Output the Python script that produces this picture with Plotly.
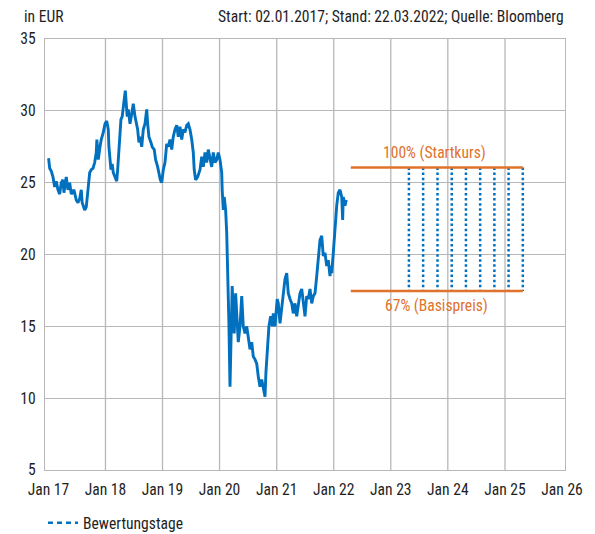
import pandas as pd
import plotly.graph_objects as go

# ---------------- data ----------------
dates = [
    "2017-01-02", "2017-01-09", "2017-01-19", "2017-01-30", "2017-02-10", "2017-02-20",
    "2017-03-03", "2017-03-14", "2017-03-24", "2017-04-04", "2017-04-10", "2017-04-25",
    "2017-05-06", "2017-05-17", "2017-05-27", "2017-06-13", "2017-06-28", "2017-07-09",
    "2017-07-20", "2017-07-30", "2017-08-05", "2017-08-21", "2017-08-31", "2017-09-11",
    "2017-09-22", "2017-10-02", "2017-10-13", "2017-10-24", "2017-11-03", "2017-11-07",
    "2017-11-16", "2017-11-27", "2017-12-05", "2017-12-18", "2017-12-29",
    "2018-01-09", "2018-01-19", "2018-01-23", "2018-01-30", "2018-02-05", "2018-02-13",
    "2018-02-20", "2018-03-03", "2018-03-14", "2018-03-20", "2018-03-28", "2018-04-04",
    "2018-04-10", "2018-04-18", "2018-04-25", "2018-05-01", "2018-05-08", "2018-05-14",
    "2018-05-20", "2018-05-27", "2018-06-07", "2018-06-18", "2018-06-28", "2018-07-09",
    "2018-07-20", "2018-07-26", "2018-08-03", "2018-08-10", "2018-08-21", "2018-08-31",
    "2018-09-11", "2018-09-22", "2018-09-28", "2018-10-06", "2018-10-19", "2018-10-27",
    "2018-11-09", "2018-11-18", "2018-12-01", "2018-12-09", "2018-12-18", "2018-12-27",
    "2019-01-06", "2019-01-17", "2019-01-28", "2019-02-07", "2019-02-18", "2019-03-01",
    "2019-03-11", "2019-03-22", "2019-04-02", "2019-04-12", "2019-04-23", "2019-05-04",
    "2019-05-14", "2019-05-25", "2019-06-05", "2019-06-15", "2019-06-26", "2019-07-07",
    "2019-07-17", "2019-07-23", "2019-08-01", "2019-08-14", "2019-08-29", "2019-09-09",
    "2019-09-19", "2019-09-30", "2019-10-11", "2019-10-21", "2019-11-01", "2019-11-12",
    "2019-11-22", "2019-12-03", "2019-12-14", "2019-12-24",
    "2020-01-04", "2020-01-15", "2020-01-18", "2020-01-25", "2020-01-31", "2020-02-09",
    "2020-02-16", "2020-02-22", "2020-02-26", "2020-03-01", "2020-03-08", "2020-03-14",
    "2020-03-22", "2020-03-29", "2020-04-04", "2020-04-13", "2020-04-20", "2020-04-30",
    "2020-05-11", "2020-05-22", "2020-06-01", "2020-06-12", "2020-06-23", "2020-07-03",
    "2020-07-14", "2020-07-25", "2020-08-04", "2020-08-15", "2020-08-26", "2020-09-05",
    "2020-09-16", "2020-09-27", "2020-10-07", "2020-10-18", "2020-10-24", "2020-11-02",
    "2020-11-12", "2020-11-23", "2020-12-04", "2020-12-10", "2020-12-21",
    "2021-01-04", "2021-01-11", "2021-01-22", "2021-02-02", "2021-02-12", "2021-02-23",
    "2021-03-06", "2021-03-16", "2021-03-27", "2021-04-07", "2021-04-17", "2021-04-28",
    "2021-05-09", "2021-05-19", "2021-05-30", "2021-06-10", "2021-06-20", "2021-07-01",
    "2021-07-12", "2021-07-22", "2021-08-02", "2021-08-13", "2021-08-23", "2021-09-03",
    "2021-09-14", "2021-09-24", "2021-10-05", "2021-10-16", "2021-10-26", "2021-11-06",
    "2021-11-17", "2021-11-27", "2021-12-08", "2021-12-14", "2021-12-19", "2021-12-29",
    "2022-01-09", "2022-01-20", "2022-01-30", "2022-02-10", "2022-02-21", "2022-02-27",
    "2022-03-03", "2022-03-14", "2022-03-22",
]
prices = [
    26.7, 26.0, 25.8, 25.4, 24.7, 25.1,
    24.5, 24.2, 25.0, 25.2, 24.3, 25.4,
    24.5, 25.0, 24.2, 24.5, 23.8, 23.6,
    23.9, 24.5, 23.6, 23.1, 23.3, 24.5,
    25.7, 25.9, 26.0, 26.4, 27.1, 28.0,
    26.6, 27.5, 28.0, 28.5, 29.1,
    29.3, 28.7, 27.5, 26.6, 25.9, 26.3,
    25.7, 25.4, 25.1, 25.9, 27.5, 28.4,
    29.4, 29.6, 30.1, 30.8, 31.4, 30.3,
    29.6, 30.1, 29.1, 29.8, 30.5, 29.6,
    29.1, 28.7, 27.8, 28.2, 27.5, 28.7,
    29.1, 30.1, 29.1, 28.2, 27.8, 27.5,
    27.3, 26.6, 26.1, 25.7, 25.2, 25.0,
    25.9, 26.4, 27.7, 27.5, 28.0, 27.3,
    28.2, 28.7, 29.0, 28.2, 28.9, 28.0,
    28.7, 28.5, 29.0, 29.1, 28.7, 28.0,
    27.1, 25.9, 25.2, 25.4, 25.9, 26.8,
    26.1, 27.1, 26.4, 27.3, 26.6, 26.1,
    27.1, 26.4, 26.6, 27.1,
    26.6, 25.7, 24.5, 23.1, 24.0, 23.1,
    21.5, 19.4, 18.0, 15.2, 10.8, 15.0,
    17.8, 15.9, 14.5, 17.3, 15.5, 13.9,
    15.0, 17.1, 15.0, 14.5, 15.0, 14.3,
    13.4, 13.9, 12.9, 12.7, 12.4, 11.5,
    10.8, 11.3, 10.8, 10.1, 11.8, 13.4,
    15.0, 15.7, 15.0, 15.9, 15.0,
    16.9, 16.6, 15.2, 16.2, 17.3, 18.3,
    18.7, 17.3, 16.9, 16.6, 15.9, 16.6,
    15.7, 16.4, 17.3, 17.6, 16.6, 15.7,
    17.1, 16.9, 17.6, 16.6, 17.1, 17.3,
    18.5, 19.6, 21.0, 21.3, 19.9, 20.1,
    19.2, 19.6, 18.5, 19.2, 18.7, 20.1,
    22.2, 23.4, 24.3, 24.5, 24.0, 22.4,
    24.0, 23.4, 23.8,
]

start_level = 26.06      # 100% (Startkurs)
strike_level = 17.46     # 67% (Basispreis)
level_period = ["2022-04-20", "2025-04-25"]
valuation_dates = [
    "2023-04-27", "2023-07-27", "2023-10-27", "2024-01-26", "2024-04-26",
    "2024-07-26", "2024-10-25", "2025-01-24", "2025-04-25",
]
x_tick_vals = ["2017-01-01", "2018-01-01", "2019-01-01", "2020-01-01", "2021-01-01",
               "2022-01-01", "2023-01-01", "2024-01-01", "2025-01-01", "2026-01-01"]
x_tick_text = ["Jan 17", "Jan 18", "Jan 19", "Jan 20", "Jan 21",
               "Jan 22", "Jan 23", "Jan 24", "Jan 25", "Jan 26"]
y_tick_vals = [5, 10, 15, 20, 25, 30, 35]

# ---------------- styling ----------------
FONT = "Liberation Sans Narrow, Roboto Condensed, DejaVu Sans Condensed, Arial Narrow, sans-serif"
FS = 15.6
TXT = "#1e1e1e"
GRID = "#b8b8b8"
BLUE = "#0070BF"
ORANGE = "#E0722B"

W, H = 595, 534
ML, MR, MT, MB = 45, 30, 39, 64
PW, PH = W - ML - MR, H - MT - MB


def px_to_paper(px, py):
    """figure pixel position -> plot-area paper coordinates"""
    return (px - ML) / PW, (H - MB - py) / PH


fig = go.Figure()

# price line
fig.add_trace(go.Scatter(x=dates, y=prices, mode="lines",
                         line=dict(color=BLUE, width=2.9),
                         showlegend=False, hoverinfo="skip"))

# valuation days (dotted verticals between the two levels)
vx, vy = [], []
for d in valuation_dates:
    vx += [d, d, None]
    vy += [start_level, strike_level, None]
fig.add_trace(go.Scatter(x=vx, y=vy, mode="lines",
                         line=dict(color=BLUE, width=2.5, dash="2.5px,2.6px"),
                         showlegend=False, hoverinfo="skip"))

# legend-only entry
fig.add_trace(go.Scatter(x=[None], y=[None], mode="lines", name="Bewertungstage",
                         line=dict(color=BLUE, width=2.5, dash="5px,4px"),
                         showlegend=True))

# level lines
for lvl in (start_level, strike_level):
    fig.add_trace(go.Scatter(x=level_period, y=[lvl, lvl], mode="lines",
                             line=dict(color=ORANGE, width=2.6),
                             showlegend=False, hoverinfo="skip"))

mid = pd.to_datetime(level_period[0]) + (pd.to_datetime(level_period[1]) - pd.to_datetime(level_period[0])) / 2

fig.add_annotation(x=mid, y=start_level, text="100% (Startkurs)", showarrow=False,
                   yshift=14, xshift=-2, font=dict(family=FONT, size=FS, color=ORANGE))
fig.add_annotation(x=mid, y=strike_level, text="67% (Basispreis)", showarrow=False,
                   yshift=-15, font=dict(family=FONT, size=FS, color=ORANGE))

# header texts
hx, hy = px_to_paper(22, 17)
fig.add_annotation(x=hx, y=hy, xref="paper", yref="paper", text="in EUR", showarrow=False,
                   xanchor="left", yanchor="middle", font=dict(family=FONT, size=FS, color=TXT))
hx, hy = px_to_paper(566, 17)
fig.add_annotation(x=hx, y=hy, xref="paper", yref="paper",
                   text="Start: 02.01.2017; Stand: 22.03.2022; Quelle: Bloomberg",
                   showarrow=False, xanchor="right", yanchor="middle",
                   font=dict(family=FONT, size=FS, color=TXT))

# vertical grid lines (interior years)
for t in x_tick_vals[1:-1]:
    fig.add_shape(type="line", x0=t, x1=t, y0=0, y1=1, yref="paper",
                  line=dict(color=GRID, width=1.3), layer="below")

fig.update_layout(
    width=W, height=H,
    margin=dict(l=ML, r=MR, t=MT, b=MB, autoexpand=False),
    paper_bgcolor="white", plot_bgcolor="white",
    font=dict(family=FONT, size=FS, color=TXT),
    xaxis=dict(type="date", range=["2016-12-10", "2026-01-20"],
               tickvals=x_tick_vals, ticktext=x_tick_text,
               showgrid=False, zeroline=False,
               showline=True, mirror=True, linecolor=GRID, linewidth=1.3,
               ticks="", ticklabelstandoff=5),
    yaxis=dict(range=[5, 35], tickvals=y_tick_vals,
               showgrid=True, gridcolor=GRID, gridwidth=1.3, zeroline=False,
               showline=True, mirror=True, linecolor=GRID, linewidth=1.3,
               ticks="", ticklabelstandoff=5),
    legend=dict(xref="container", yref="container", x=43 / W, y=1 - 523 / H,
                xanchor="left", yanchor="middle", orientation="h",
                font=dict(family=FONT, size=FS, color=TXT), bgcolor="rgba(0,0,0,0)"),
)

fig.write_html("out.html", config={"displayModeBar": False},
               post_script="document.body.style.margin='0';")
